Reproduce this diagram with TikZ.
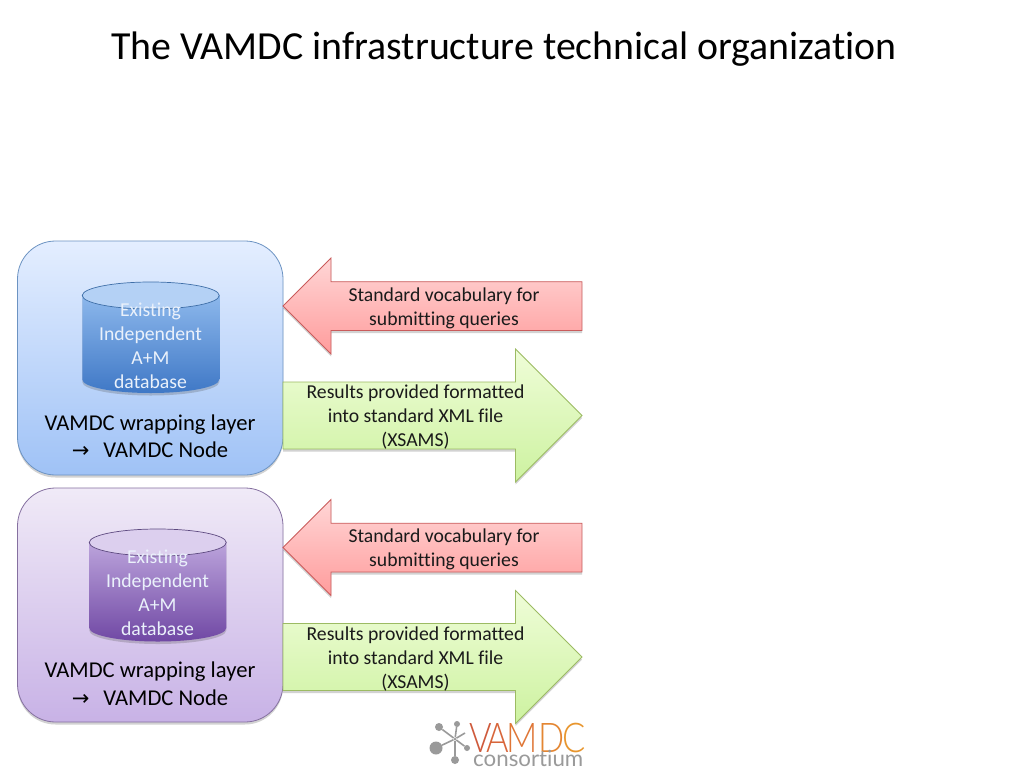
\documentclass[tikz,border=0pt]{standalone}
\usepackage{fontspec}
\setmainfont[Ligatures=CommonOff]{Carlito}
\newfontfamily\symfont{DejaVu Sans}
\newfontfamily\logofont[Ligatures=CommonOff]{Lato Light}
\newfontfamily\consfont[Ligatures=CommonOff]{Lato}
\usetikzlibrary{shadows,shapes.geometric}
\definecolor{inkc}{HTML}{1A1A1A}
\definecolor{blueedge}{HTML}{6C93C2}
\definecolor{bluetop}{HTML}{E4EEFF}
\definecolor{bluebot}{HTML}{9FC2F6}
\definecolor{purpedge}{HTML}{8570A0}
\definecolor{purptop}{HTML}{F0EAF7}
\definecolor{purpbot}{HTML}{C8B2E6}
\definecolor{rededge}{HTML}{C95B5B}
\definecolor{redtop}{HTML}{FFD6D6}
\definecolor{redbot}{HTML}{FF9C9C}
\definecolor{greenedge}{HTML}{9CBB63}
\definecolor{greentop}{HTML}{EFFDD8}
\definecolor{greenbot}{HTML}{CDF2A0}
\definecolor{dbtxt}{HTML}{EAF1FB}
\definecolor{logogrey}{HTML}{9A9A9A}
\definecolor{dbbluetop}{HTML}{8DB8EC}
\definecolor{dbbluebot}{HTML}{3F78C6}
\definecolor{dbbluelid}{HTML}{B4D1F5}
\definecolor{dbblueline}{HTML}{3F6FA8}
\definecolor{dbpurptop}{HTML}{BCA4DC}
\definecolor{dbpurpbot}{HTML}{7048A4}
\definecolor{dbpurplid}{HTML}{DCCFEE}
\definecolor{dbpurpline}{HTML}{5E4A80}
\tikzset{
  x=1pt,y=-1pt,
  softshadow/.style={drop shadow={shadow xshift=0pt,shadow yshift=-2.5pt,opacity=.25,fill=black!70}},
  panel/.style={line width=.8pt,rounded corners=38pt,softshadow,minimum width=265.5pt,minimum height=234pt,inner sep=0pt},
  panelblue/.style={panel,draw=blueedge,top color=bluetop,bottom color=bluebot},
  panelpurple/.style={panel,draw=purpedge,top color=purptop,bottom color=purpbot},
  redarrow/.style={draw=rededge,line width=.8pt,top color=redtop,bottom color=redbot,softshadow},
  greenarrow/.style={draw=greenedge,line width=.8pt,top color=greentop,bottom color=greenbot,softshadow},
  bodytext/.style={font=\fontsize{19.7}{24}\selectfont,text=inkc,align=center,inner sep=0pt},
  labeltext/.style={font=\fontsize{22.6}{27.5}\selectfont,text=black,align=center,inner sep=0pt},
  dbtext/.style={font=\fontsize{19.7}{24}\selectfont,align=center,inner sep=0pt,text=dbtxt},
  dblid/.style={ellipse,line width=.7pt,minimum width=137pt,minimum height=27pt,inner sep=0pt},
  hubdot/.style={circle,fill=logogrey,inner sep=0pt},
  hubline/.style={draw=logogrey,line width=1.6pt},
}
% #1 x centre, #2 lid centre y, #3 bottom-rim centre y, #4 top colour, #5 bottom colour
\newcommand{\dbbody}[5]{%
  \path[top color=#4,bottom color=#5,softshadow]
    (#1-68.5,#2) -- (#1-68.5,#3)
    .. controls (#1-68.5,#3+7.46) and (#1-37.83,#3+13.5) .. (#1,#3+13.5)
    .. controls (#1+37.83,#3+13.5) and (#1+68.5,#3+7.46) .. (#1+68.5,#3)
    -- (#1+68.5,#2) -- cycle;
}
\newcommand{\redshape}[1]{%
  \path[redarrow] (283,306+#1) -- (331,258+#1) -- (331,281.7+#1) -- (582,281.7+#1) -- (582,330.5+#1) -- (331,330.5+#1) -- (331,354+#1) -- cycle;
}
\newcommand{\greenshape}[1]{%
  \path[greenarrow] (283,382+#1) -- (515.5,382+#1) -- (515.5,349+#1) -- (582,415.5+#1) -- (515.5,482+#1) -- (515.5,449+#1) -- (283,449+#1) -- cycle;
}
\newcommand{\nodeline}{{\symfont\fontsize{21}{21}\selectfont →}\hspace{14pt}VAMDC Node}
\begin{document}
\begin{tikzpicture}
\useasboundingbox (0,0) rectangle (1024,768);
\fill[white] (0,0) rectangle (1024,768);

\node[font=\fontsize{39.8}{44}\selectfont,text=black,inner sep=0pt] (title) at (504,49.5) {The VAMDC infrastructure technical organization};

% logo
\node[hubdot,minimum size=3pt] (hub) at (455,739) {};
\node[hubdot,minimum size=13pt] (d1) at (436,748) {};
\node[hubdot,minimum size=8pt] (d2) at (439,727) {};
\node[hubdot,minimum size=6pt] (d3) at (457,724) {};
\node[hubdot,minimum size=6pt] (d4) at (467,748) {};
\node[hubdot,minimum size=8pt] (d5) at (455,760) {};
\coordinate (d6) at (465,733);
\foreach \d in {d1,d2,d3,d4,d5,d6} \draw[hubline] (hub) -- (\d);
\node[inner sep=0pt,anchor=base west,transform shape,xscale=.84,font=\logofont\fontsize{41}{41}\selectfont] (vamdc) at (469,752)
  {\textcolor[HTML]{CF5A3C}{V}\kern-6pt\textcolor[HTML]{D8653A}{A}\kern-3pt\textcolor[HTML]{DF7636}{M}\textcolor[HTML]{E48632}{D}\kern-1.5pt\textcolor[HTML]{E8962E}{C}};
\node[inner sep=0pt,anchor=base west,text=logogrey,font=\consfont\fontsize{22.3}{22}\selectfont] (cons) at (473,766) {consortium};

% panel 1
\node[panelblue] (p1) at (150.25,358) {};
\dbbody{150.75}{295}{379.5}{dbbluetop}{dbbluebot}
\node[dblid,draw=dbblueline,fill=dbbluelid] (lid1) at (150.75,295.5) {};
\node[dbtext] (db1) at (150.5,345.5) {Existing\\Independent\\A+M\\database};
\node[labeltext] (lab1) at (150,436) {VAMDC wrapping layer\\\nodeline};
\redshape{0}
\node[bodytext] (q1) at (444,308) {Standard vocabulary for\\submitting queries};
\greenshape{0}
\node[bodytext] (r1) at (415.5,417.5) {Results provided formatted\\into standard XML file\\(XSAMS)};

% panel 2
\node[panelpurple] (p2) at (150.25,605) {};
\dbbody{157.75}{542}{628}{dbpurptop}{dbpurpbot}
\node[dblid,draw=dbpurpline,fill=dbpurplid] (lid2) at (157.75,542.5) {};
\node[dbtext] (db2) at (157.5,593) {Existing\\Independent\\A+M\\database};
\node[labeltext] (lab2) at (150,683.5) {VAMDC wrapping layer\\\nodeline};
\redshape{241.5}
\node[bodytext] (q2) at (444,549.5) {Standard vocabulary for\\submitting queries};
\greenshape{241.5}
\node[bodytext] (r2) at (415.5,659) {Results provided formatted\\into standard XML file\\(XSAMS)};
\end{tikzpicture}
\end{document}
